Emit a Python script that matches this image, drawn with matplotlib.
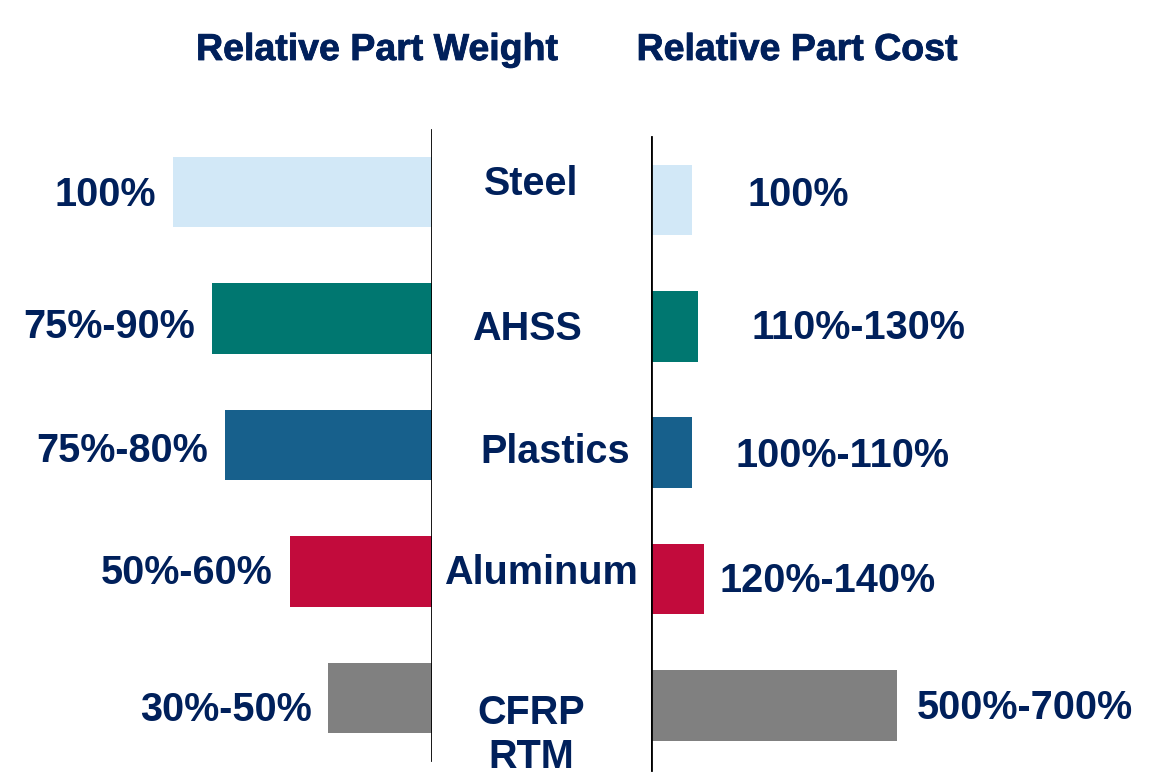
import numpy as np
import matplotlib.pyplot as plt
import matplotlib.patheffects as pe

# Data
materials = ['Steel', 'AHSS', 'Plastics', 'Aluminum', 'CFRP\nRTM']
weight = [100, 85, 80, 55, 40]
cost = [100, 115, 100, 130, 600]
weight_labels = ['100%', '75%-90%', '75%-80%', '50%-60%', '30%-50%']
cost_labels = ['100%', '110%-130%', '100%-110%', '120%-140%', '500%-700%']
colors = ['#d2e8f7', '#007770', '#17608c', '#c20b3c', '#808080']

navy = '#00205b'
W, H = 1161, 777
plt.rcParams['font.family'] = ['Liberation Sans', 'DejaVu Sans']
fs = 28.5

fig = plt.figure(figsize=(W / 100, H / 100), dpi=100)

y = np.arange(len(materials))

# left panel: weight, bars grow to the left from x=432px
axl = fig.add_axes([0, 0, 432 / W, 1])
axl.barh(y, weight, height=0.56, color=colors)
axl.set_xlim(432 / 259 * 100, 0)
axl.set_ylim((H - 192) / 126.5, -192 / 126.5)
axl.axvline(0, ymin=1 - 760 / H, ymax=1 - 130 / H, color='black', lw=2)
axl.axis('off')

# label nudges in pixels (positive = down)
weight_dy = [3, 8, 6, 2, 12]
for i, (v, lab) in enumerate(zip(weight, weight_labels)):
    axl.annotate(lab, (v, i), xytext=(-17, -weight_dy[i]),
                 textcoords='offset pixels',
                 ha='right', va='center', fontsize=fs, fontweight='bold',
                 color=navy)

# category names between panels
name_x = [531, 527, 555, 541, 531]
name_dy = [-8, 10, 7, 2, 37]
for i, name in enumerate(materials):
    axl.text((432 - name_x[i]) / 259 * 100, i + name_dy[i] / 126.5, name,
             ha='center', va='center', fontsize=fs, fontweight='bold',
             color=navy, linespacing=1.22)

# right panel: cost, bars grow to the right from x=651px
axr = fig.add_axes([651 / W, 0, 1 - 651 / W, 1])
axr.barh(y, cost, height=0.56, color=colors)
axr.set_xlim(0, (W - 651) / 41 * 100)
axr.set_ylim((H - 200) / 126.3, -200 / 126.3)
axr.axvline(0, ymin=1 - 770 / H, ymax=1 - 137 / H, color='black', lw=2)
axr.axis('off')

cost_pad = [56, 53, 44, 15, 20]
cost_dy = [-5, 2, 3, 2, 3]
for i, (v, lab) in enumerate(zip(cost, cost_labels)):
    axr.annotate(lab, (v, i), xytext=(cost_pad[i], -cost_dy[i]),
                 textcoords='offset pixels',
                 ha='left', va='center', fontsize=fs, fontweight='bold',
                 color=navy)

# panel titles (narrow bold look)
bold = [pe.withStroke(linewidth=0.6, foreground=navy)]
for x, title in [(377, 'Relative Part Weight'), (797, 'Relative Part Cost')]:
    fig.text(x / W, 1 - 50 / H, title, ha='center', va='center',
             fontsize=27, fontweight='bold', color=navy,
             family=['Liberation Sans Narrow', 'Liberation Sans'],
             path_effects=bold)

fig.savefig('out.png', dpi=100)
